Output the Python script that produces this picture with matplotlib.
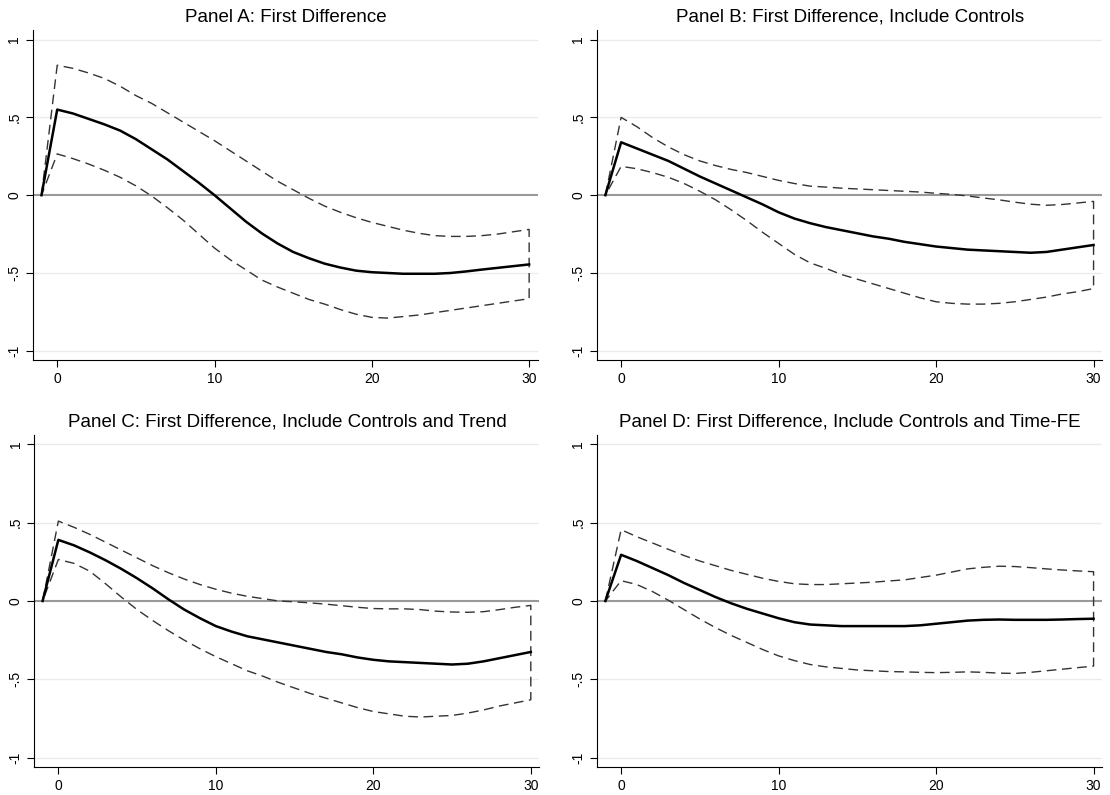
import numpy as np
import matplotlib.pyplot as plt

plt.rcParams['font.family'] = ['Liberation Sans', 'DejaVu Sans']

# horizons: -1 is the baseline period, then 0..30
horizon = list(range(-1, 31))

titles = [
    "Panel A: First Difference",
    "Panel B: First Difference, Include Controls",
    "Panel C: First Difference, Include Controls and Trend",
    "Panel D: First Difference, Include Controls and Time-FE",
]

# Panel A
a_coef = [0, 0.55, 0.525, 0.49, 0.455, 0.415, 0.36, 0.295, 0.23, 0.155, 0.08, 0.0,
          -0.085, -0.17, -0.245, -0.31, -0.365, -0.405, -0.44, -0.465, -0.485, -0.495,
          -0.50, -0.505, -0.505, -0.505, -0.50, -0.49, -0.478, -0.467, -0.456, -0.445]
a_upper = [0, 0.835, 0.815, 0.785, 0.75, 0.70, 0.64, 0.59, 0.53, 0.47, 0.41, 0.35,
           0.285, 0.22, 0.155, 0.09, 0.035, -0.02, -0.07, -0.11, -0.145, -0.175,
           -0.20, -0.225, -0.245, -0.26, -0.265, -0.265, -0.26, -0.25, -0.235, -0.22]
a_lower = [0, 0.265, 0.235, 0.20, 0.16, 0.115, 0.06, -0.005, -0.08, -0.16, -0.25, -0.34,
           -0.415, -0.48, -0.545, -0.59, -0.63, -0.67, -0.70, -0.735, -0.765, -0.785,
           -0.79, -0.78, -0.77, -0.755, -0.74, -0.725, -0.71, -0.695, -0.68, -0.665]

# Panel B
b_coef = [0, 0.34, 0.30, 0.26, 0.22, 0.17, 0.12, 0.075, 0.03, -0.015, -0.06, -0.11,
          -0.15, -0.18, -0.205, -0.225, -0.245, -0.265, -0.28, -0.30, -0.315, -0.33,
          -0.34, -0.35, -0.355, -0.36, -0.365, -0.37, -0.365, -0.35, -0.335, -0.32]
b_upper = [0, 0.50, 0.44, 0.37, 0.31, 0.26, 0.22, 0.19, 0.165, 0.145, 0.12, 0.095,
           0.075, 0.058, 0.052, 0.045, 0.04, 0.035, 0.03, 0.025, 0.02, 0.012,
           0.005, -0.005, -0.018, -0.03, -0.045, -0.058, -0.065, -0.06, -0.05, -0.04]
b_lower = [0, 0.185, 0.17, 0.145, 0.115, 0.075, 0.025, -0.03, -0.095, -0.165, -0.24, -0.31,
           -0.38, -0.435, -0.47, -0.51, -0.54, -0.57, -0.60, -0.63, -0.66, -0.685,
           -0.695, -0.70, -0.70, -0.695, -0.685, -0.67, -0.655, -0.635, -0.62, -0.60]

# Panel C
c_coef = [0, 0.39, 0.355, 0.31, 0.26, 0.205, 0.145, 0.08, 0.01, -0.055, -0.11, -0.16,
          -0.195, -0.225, -0.245, -0.265, -0.285, -0.305, -0.325, -0.34, -0.36, -0.375,
          -0.385, -0.39, -0.395, -0.40, -0.405, -0.40, -0.385, -0.365, -0.345, -0.325]
c_upper = [0, 0.51, 0.47, 0.425, 0.375, 0.325, 0.275, 0.225, 0.18, 0.14, 0.105, 0.075,
           0.05, 0.03, 0.015, 0.0, -0.005, -0.012, -0.02, -0.03, -0.04, -0.048,
           -0.05, -0.05, -0.055, -0.065, -0.07, -0.072, -0.068, -0.055, -0.04, -0.028]
c_lower = [0, 0.265, 0.24, 0.19, 0.11, 0.025, -0.055, -0.125, -0.19, -0.25, -0.305, -0.355,
           -0.40, -0.445, -0.48, -0.52, -0.555, -0.59, -0.62, -0.65, -0.68, -0.705,
           -0.72, -0.735, -0.74, -0.735, -0.73, -0.715, -0.695, -0.67, -0.65, -0.63]

# Panel D
d_coef = [0, 0.295, 0.255, 0.21, 0.165, 0.115, 0.07, 0.025, -0.015, -0.05, -0.08, -0.11,
          -0.135, -0.15, -0.155, -0.16, -0.16, -0.16, -0.16, -0.16, -0.155, -0.145,
          -0.135, -0.125, -0.12, -0.118, -0.12, -0.12, -0.12, -0.118, -0.115, -0.113]
d_upper = [0, 0.455, 0.41, 0.37, 0.33, 0.29, 0.255, 0.225, 0.195, 0.17, 0.145, 0.125,
           0.11, 0.105, 0.105, 0.11, 0.115, 0.12, 0.128, 0.135, 0.15, 0.165,
           0.185, 0.205, 0.215, 0.222, 0.22, 0.213, 0.205, 0.198, 0.192, 0.187]
d_lower = [0, 0.13, 0.105, 0.06, 0.005, -0.055, -0.115, -0.17, -0.22, -0.265, -0.31, -0.35,
           -0.38, -0.405, -0.42, -0.43, -0.44, -0.445, -0.45, -0.452, -0.455, -0.457,
           -0.455, -0.452, -0.455, -0.46, -0.462, -0.455, -0.445, -0.435, -0.425, -0.415]

panels = [(a_coef, a_upper, a_lower), (b_coef, b_upper, b_lower),
          (c_coef, c_upper, c_lower), (d_coef, d_upper, d_lower)]

yticks = [-1, -0.5, 0, 0.5, 1]
ytick_labels = ["-1", "-.5", "0", ".5", "1"]
xticks = [0, 10, 20, 30]

# axes boxes in figure fractions [left, bottom, width, height]
boxes = [[0.030, 0.547, 0.4545, 0.415], [0.538, 0.547, 0.455, 0.415],
         [0.031, 0.035, 0.455, 0.418], [0.538, 0.035, 0.455, 0.418]]

fig = plt.figure(figsize=(11.1, 7.95), dpi=100)

for box, title, (coef, upper, lower) in zip(boxes, titles, panels):
    ax = fig.add_axes(box)
    x = np.array(horizon)
    for yv in [-1, -0.5, 0.5, 1]:
        ax.axhline(yv, color='#ebebeb', lw=1.0, zorder=0)
    ax.axhline(0, color='#999999', lw=1.5, zorder=1)

    # confidence band drawn as a closed dashed outline
    band_x = np.concatenate([x, x[::-1]])
    band_y = np.concatenate([upper, lower[::-1]])
    ax.plot(band_x, band_y, color='#333333', lw=1.0, ls=(0, (7, 4)), zorder=2)
    ax.plot(x, coef, color='black', lw=1.8, zorder=3)

    ax.set_xlim(-1.52, 30.55)
    ax.set_ylim(-1.06, 1.06)
    ax.set_yticks(yticks)
    ax.set_yticklabels(ytick_labels, rotation=90, va='center')
    ax.set_xticks(xticks)
    ax.tick_params(direction='out', length=5, width=0.8, labelsize=10, colors='black')
    ax.spines['top'].set_visible(False)
    ax.spines['right'].set_visible(False)
    ax.set_title(title, fontsize=13.5, pad=6)

fig.savefig("out.png", dpi=100)
plt.close(fig)
